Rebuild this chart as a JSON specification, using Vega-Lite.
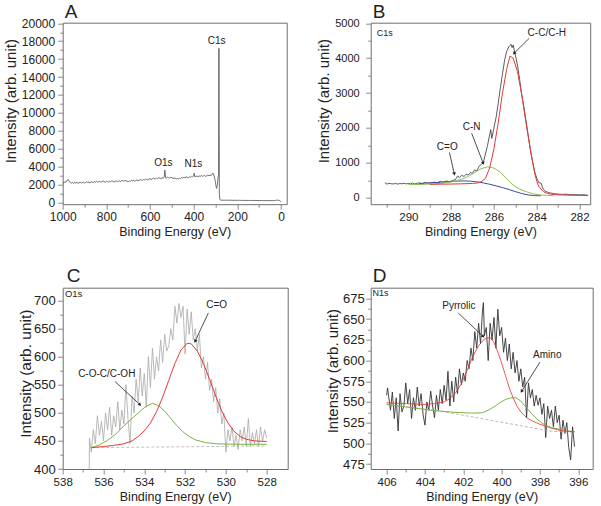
{
"$schema": "https://vega.github.io/schema/vega-lite/v6.json",
"autosize": {"type": "none"},
"padding": {"left": 62.7, "top": 22.7, "right": 538.3, "bottom": 483.3},
"background": "white",
"columns": 2,
"spacing": {"row": 83, "column": 83},
"bounds": "flush",
"config": {
 "view": {"stroke": "#6e6e6e", "strokeWidth": 1},
 "font": "Liberation Sans",
 "axis": {"domain": false, "grid": false, "tickCount": 100, "tickColor": "#6e6e6e", "tickWidth": 0.8, "tickSize": 5, "labelColor": "#222", "titleColor": "#222", "labelFont": "Liberation Sans", "titleFont": "Liberation Sans", "titleFontWeight": "normal", "labelFlush": false, "labelOverlap": false, "labelPadding": 2},
 "axisX": {"titleFontSize": 12.5, "titlePadding": 3, "labelFontSize": 11.5},
 "axisY": {"titleFontSize": 15, "titlePadding": 3, "labelPadding": 3, "labelFontSize": 12},
 "title": {"font": "Liberation Sans", "fontSize": 19, "fontWeight": "normal", "anchor": "start", "frame": "group", "color": "#222", "baseline": "alphabetic"}
},
"concat": [
{
 "width": 224, "height": 181.5,
 "title": {"text": "A", "offset": -5, "dx": 2},
 "resolve": {"axis": {"x": "independent", "y": "independent"}},
 "layer": [
 {"layer": [
  {"data": {"values": [{"e":1000,"v":2200},{"e":995,"v":2150},{"e":990,"v":2300},{"e":985,"v":2250},{"e":980,"v":2450},{"e":975,"v":2550},{"e":970,"v":2300},{"e":965,"v":2200},{"e":960,"v":2150},{"e":955,"v":2250},{"e":950,"v":2100},{"e":945,"v":2200},{"e":940,"v":2150},{"e":935,"v":2250},{"e":930,"v":2100},{"e":925,"v":2200},{"e":920,"v":2250},{"e":915,"v":2150},{"e":910,"v":2200},{"e":905,"v":2250},{"e":900,"v":2150},{"e":895,"v":2200},{"e":890,"v":2300},{"e":885,"v":2200},{"e":880,"v":2250},{"e":875,"v":2150},{"e":870,"v":2300},{"e":865,"v":2250},{"e":860,"v":2200},{"e":855,"v":2300},{"e":850,"v":2250},{"e":845,"v":2350},{"e":840,"v":2250},{"e":835,"v":2300},{"e":830,"v":2350},{"e":825,"v":2250},{"e":820,"v":2300},{"e":815,"v":2400},{"e":810,"v":2300},{"e":805,"v":2250},{"e":800,"v":2350},{"e":795,"v":2300},{"e":790,"v":2250},{"e":785,"v":2350},{"e":780,"v":2300},{"e":775,"v":2400},{"e":770,"v":2350},{"e":765,"v":2250},{"e":760,"v":2350},{"e":755,"v":2400},{"e":750,"v":2300},{"e":745,"v":2350},{"e":740,"v":2400},{"e":735,"v":2300},{"e":730,"v":2450},{"e":725,"v":2400},{"e":720,"v":2350},{"e":715,"v":2450},{"e":710,"v":2400},{"e":705,"v":2350},{"e":700,"v":2300},{"e":695,"v":2400},{"e":690,"v":2350},{"e":685,"v":2450},{"e":680,"v":2400},{"e":675,"v":2450},{"e":670,"v":2350},{"e":665,"v":2450},{"e":660,"v":2500},{"e":655,"v":2400},{"e":650,"v":2450},{"e":645,"v":2550},{"e":640,"v":2500},{"e":635,"v":2450},{"e":630,"v":2550},{"e":625,"v":2500},{"e":620,"v":2600},{"e":615,"v":2550},{"e":610,"v":2500},{"e":605,"v":2600},{"e":600,"v":2650},{"e":595,"v":2550},{"e":590,"v":2600},{"e":585,"v":2700},{"e":580,"v":2650},{"e":575,"v":2600},{"e":570,"v":2700},{"e":565,"v":2650},{"e":560,"v":2750},{"e":555,"v":2700},{"e":550,"v":2650},{"e":545,"v":2750},{"e":540,"v":2700},{"e":535,"v":2800},{"e":532,"v":3600},{"e":529,"v":2750},{"e":525,"v":2700},{"e":520,"v":2800},{"e":515,"v":2750},{"e":510,"v":2700},{"e":505,"v":2800},{"e":500,"v":2750},{"e":495,"v":2700},{"e":490,"v":2650},{"e":485,"v":2750},{"e":480,"v":2600},{"e":475,"v":2650},{"e":470,"v":2600},{"e":465,"v":2700},{"e":460,"v":2650},{"e":455,"v":2750},{"e":450,"v":2700},{"e":445,"v":2800},{"e":440,"v":2750},{"e":435,"v":2850},{"e":430,"v":2800},{"e":425,"v":2750},{"e":420,"v":2850},{"e":415,"v":2800},{"e":410,"v":2900},{"e":405,"v":2850},{"e":400,"v":2950},{"e":398,"v":3250},{"e":395,"v":2850},{"e":390,"v":2900},{"e":385,"v":2950},{"e":380,"v":2850},{"e":375,"v":2950},{"e":370,"v":2900},{"e":365,"v":3000},{"e":360,"v":2900},{"e":355,"v":2950},{"e":350,"v":3000},{"e":345,"v":2900},{"e":340,"v":2950},{"e":335,"v":3050},{"e":330,"v":2950},{"e":325,"v":3050},{"e":320,"v":3000},{"e":315,"v":3150},{"e":312,"v":3250},{"e":308,"v":3050},{"e":304,"v":2700},{"e":300,"v":2200},{"e":297,"v":1700},{"e":295,"v":1550},{"e":292,"v":1900},{"e":289,"v":2600},{"e":286,"v":3200},{"e":284.5,"v":17200},{"e":282.5,"v":900},{"e":280,"v":300},{"e":277,"v":250},{"e":270,"v":240},{"e":260,"v":230},{"e":250,"v":240},{"e":240,"v":225},{"e":230,"v":235},{"e":220,"v":220},{"e":210,"v":230},{"e":200,"v":215},{"e":190,"v":225},{"e":180,"v":210},{"e":170,"v":220},{"e":160,"v":205},{"e":150,"v":215},{"e":140,"v":200},{"e":130,"v":210},{"e":120,"v":200},{"e":110,"v":205},{"e":100,"v":195},{"e":90,"v":200},{"e":80,"v":190},{"e":70,"v":195},{"e":60,"v":185},{"e":50,"v":190},{"e":40,"v":185},{"e":30,"v":200},{"e":25,"v":220},{"e":20,"v":230},{"e":15,"v":240},{"e":10,"v":225},{"e":6,"v":200},{"e":3,"v":120},{"e":0,"v":30}]},
   "mark": {"type": "line", "color": "#4d4d4d", "strokeWidth": 0.8},
   "encoding": {
    "x": {"field": "e", "type": "quantitative", "scale": {"domain": [-26, 1000], "reverse": true, "nice": false, "zero": false},
     "axis": {"title": "Binding Energy (eV)", "format": "d", "tickCount": 100, "values": [0,200,400,600,800,1000], "labelFontSize": 12}},
    "y": {"field": "v", "type": "quantitative", "scale": {"domain": [-212, 20067], "nice": false, "zero": false},
     "axis": {"title": "Intensity (arb. unit)", "format": "d", "tickCount": 100, "titleY": 78, "values": [0,2000,4000,6000,8000,10000,12000,14000,16000,18000,20000]}}
   }},
  {"data": {"values": [{"e":294.5,"v":18056,"t":"C1s"},{"e":539,"v":4358,"t":"O1s"},{"e":401.7,"v":4313,"t":"N1s"}]},
   "mark": {"type": "text", "fontSize": 10, "color": "#222", "align": "center", "baseline": "middle", "font": "Liberation Sans"},
   "encoding": {"x": {"field": "e", "type": "quantitative"}, "y": {"field": "v", "type": "quantitative"}, "text": {"field": "t"}}}
 ]},
 {"data": {"values": [{"e":500,"v":1000}]}, "mark": {"type": "point", "opacity": 0},
  "encoding": {"x": {"field": "e", "type": "quantitative", "axis": {"orient": "bottom", "tickCount": 100, "values": [100,300,500,700,900], "labels": false, "title": null, "tickSize": 3}},
   "y": {"field": "v", "type": "quantitative", "axis": {"orient": "left", "tickCount": 100, "values": [1000,3000,5000,7000,9000,11000,13000,15000,17000,19000], "labels": false, "title": null, "tickSize": 3}}}}
 ]
},
{
 "width": 219.5, "height": 181.5,
 "title": {"text": "B", "offset": -4.5, "dx": 2},
 "resolve": {"axis": {"x": "independent", "y": "independent"}},
 "layer": [
 {"layer": [
  {"data": {"values": [{"e":291.1,"v":430},{"e":291.0,"v":390},{"e":290.9,"v":410},{"e":290.8,"v":400},{"e":290.7,"v":395},{"e":290.6,"v":410},{"e":290.5,"v":390},{"e":290.4,"v":405},{"e":290.3,"v":400},{"e":290.2,"v":415},{"e":290.1,"v":395},{"e":290.0,"v":410},{"e":289.9,"v":400},{"e":289.8,"v":420},{"e":289.7,"v":395},{"e":289.6,"v":410},{"e":289.5,"v":430},{"e":289.4,"v":400},{"e":289.3,"v":415},{"e":289.2,"v":440},{"e":289.1,"v":410},{"e":289.0,"v":430},{"e":288.9,"v":420},{"e":288.8,"v":450},{"e":288.7,"v":425},{"e":288.6,"v":440},{"e":288.5,"v":470},{"e":288.4,"v":445},{"e":288.3,"v":465},{"e":288.2,"v":480},{"e":288.1,"v":455},{"e":288.0,"v":475},{"e":287.9,"v":500},{"e":287.8,"v":520},{"e":287.7,"v":620},{"e":287.6,"v":580},{"e":287.5,"v":640},{"e":287.4,"v":610},{"e":287.3,"v":670},{"e":287.2,"v":650},{"e":287.1,"v":720},{"e":287.0,"v":700},{"e":286.9,"v":800},{"e":286.8,"v":760},{"e":286.7,"v":900},{"e":286.6,"v":950},{"e":286.5,"v":1000},{"e":286.4,"v":1250},{"e":286.3,"v":1500},{"e":286.2,"v":1800},{"e":286.15,"v":1950},{"e":286.1,"v":1700},{"e":286.0,"v":2000},{"e":285.9,"v":2300},{"e":285.8,"v":2700},{"e":285.7,"v":3150},{"e":285.6,"v":3550},{"e":285.5,"v":3950},{"e":285.4,"v":4200},{"e":285.3,"v":4330},{"e":285.2,"v":4400},{"e":285.15,"v":4300},{"e":285.1,"v":4380},{"e":285.0,"v":4100},{"e":284.9,"v":3800},{"e":284.8,"v":3400},{"e":284.7,"v":2950},{"e":284.6,"v":2600},{"e":284.5,"v":2200},{"e":284.4,"v":1800},{"e":284.3,"v":1400},{"e":284.2,"v":1050},{"e":284.1,"v":760},{"e":284.0,"v":560},{"e":283.9,"v":430},{"e":283.8,"v":420},{"e":283.7,"v":250},{"e":283.6,"v":190},{"e":283.5,"v":160},{"e":283.4,"v":140},{"e":283.3,"v":130},{"e":283.2,"v":115},{"e":283.1,"v":110},{"e":283.0,"v":105},{"e":282.8,"v":95},{"e":282.6,"v":100},{"e":282.4,"v":85},{"e":282.2,"v":90},{"e":282.0,"v":80},{"e":281.8,"v":85},{"e":281.6,"v":70}]},
   "mark": {"type": "line", "color": "#333", "strokeWidth": 0.8},
   "encoding": {
    "x": {"field": "e", "type": "quantitative", "scale": {"domain": [281.5, 291.76], "reverse": true, "nice": false, "zero": false},
     "axis": {"title": "Binding Energy (eV)", "format": "d", "tickCount": 100, "values": [282,284,286,288,290]}},
    "y": {"field": "v", "type": "quantitative", "scale": {"domain": [-186, 5017], "nice": false, "zero": false},
     "axis": {"title": "Intensity (arb. unit)", "format": "d", "tickCount": 100, "titleY": 78, "labelPadding": 6.5, "labelFontSize": 11, "values": [0,1000,2000,3000,4000,5000]}}
   }},
  {"data": {"values": [{"e":289.5,"v":410},{"e":289.0,"v":425},{"e":288.5,"v":443},{"e":288.0,"v":465},{"e":287.7,"v":477},{"e":287.4,"v":482},{"e":287.1,"v":475},{"e":286.8,"v":455},{"e":286.5,"v":425},{"e":286.2,"v":385},{"e":285.9,"v":340},{"e":285.6,"v":290},{"e":285.3,"v":235},{"e":285.0,"v":175},{"e":284.7,"v":120},{"e":284.4,"v":80},{"e":284.1,"v":60},{"e":283.8,"v":55}]},
   "mark": {"type": "line", "color": "#3a4ba3", "strokeWidth": 1},
   "encoding": {"x": {"field": "e", "type": "quantitative"}, "y": {"field": "v", "type": "quantitative"}}},
  {"data": {"values": [{"e":290.0,"v":375},{"e":289.5,"v":380},{"e":289.0,"v":390},{"e":288.5,"v":410},{"e":288.0,"v":450},{"e":287.5,"v":530},{"e":287.2,"v":610},{"e":286.9,"v":720},{"e":286.6,"v":830},{"e":286.3,"v":885},{"e":286.0,"v":850},{"e":285.7,"v":730},{"e":285.4,"v":540},{"e":285.1,"v":360},{"e":284.8,"v":250},{"e":284.5,"v":175},{"e":284.2,"v":115},{"e":283.85,"v":80},{"e":283.5,"v":65},{"e":283.2,"v":58}]},
   "mark": {"type": "line", "color": "#8cc152", "strokeWidth": 1},
   "encoding": {"x": {"field": "e", "type": "quantitative"}, "y": {"field": "v", "type": "quantitative"}}},
  {"data": {"values": [{"e":289.0,"v":384},{"e":288.5,"v":388},{"e":288.0,"v":392},{"e":287.5,"v":398},{"e":287.0,"v":408},{"e":286.8,"v":420},{"e":286.6,"v":455},{"e":286.4,"v":550},{"e":286.2,"v":850},{"e":286.0,"v":1400},{"e":285.8,"v":2150},{"e":285.6,"v":3000},{"e":285.4,"v":3700},{"e":285.25,"v":4060},{"e":285.1,"v":4000},{"e":284.9,"v":3620},{"e":284.7,"v":2950},{"e":284.5,"v":2150},{"e":284.3,"v":1380},{"e":284.1,"v":720},{"e":284.0,"v":480},{"e":283.9,"v":320},{"e":283.7,"v":180},{"e":283.5,"v":120},{"e":283.2,"v":90},{"e":282.8,"v":78},{"e":282.3,"v":70},{"e":281.6,"v":62}]},
   "mark": {"type": "line", "color": "#e53935", "strokeWidth": 1},
   "encoding": {"x": {"field": "e", "type": "quantitative"}, "y": {"field": "v", "type": "quantitative"}}},
  {"data": {"values": [{"e":284.35,"v":4570,"e2":285.06,"v2":4140},{"e":287.04,"v":1846,"e2":286.5,"v2":986},{"e":288.08,"v":1296,"e2":287.85,"v2":680}]},
   "mark": {"type": "rule", "color": "#222", "strokeWidth": 0.8},
   "encoding": {"x": {"field": "e", "type": "quantitative"}, "y": {"field": "v", "type": "quantitative"}, "x2": {"field": "e2"}, "y2": {"field": "v2"}}},
  {"data": {"values": [{"e":285.06,"v":4140}]}, "mark": {"type": "point", "shape": "triangle-up", "angle": 226, "size": 14, "filled": true, "color": "#222", "opacity": 1},
   "encoding": {"x": {"field": "e", "type": "quantitative"}, "y": {"field": "v", "type": "quantitative"}}},
  {"data": {"values": [{"e":286.5,"v":986}]}, "mark": {"type": "point", "shape": "triangle-up", "angle": 159, "size": 14, "filled": true, "color": "#222", "opacity": 1},
   "encoding": {"x": {"field": "e", "type": "quantitative"}, "y": {"field": "v", "type": "quantitative"}}},
  {"data": {"values": [{"e":287.85,"v":680}]}, "mark": {"type": "point", "shape": "triangle-up", "angle": 167, "size": 14, "filled": true, "color": "#222", "opacity": 1},
   "encoding": {"x": {"field": "e", "type": "quantitative"}, "y": {"field": "v", "type": "quantitative"}}},
  {"data": {"values": [{"e":283.53,"v":4713,"t":"C-C/C-H"},{"e":287.04,"v":2018,"t":"C-N"},{"e":288.18,"v":1462,"t":"C=O"}]},
   "mark": {"type": "text", "fontSize": 10, "color": "#222", "align": "center", "baseline": "middle", "font": "Liberation Sans"},
   "encoding": {"x": {"field": "e", "type": "quantitative"}, "y": {"field": "v", "type": "quantitative"}, "text": {"field": "t"}}},
  {"data": {"values": [{"e":291.48,"v":4713,"t":"C1s"}]},
   "mark": {"type": "text", "fontSize": 9, "color": "#222", "align": "left", "baseline": "middle", "font": "Liberation Sans"},
   "encoding": {"x": {"field": "e", "type": "quantitative"}, "y": {"field": "v", "type": "quantitative"}, "text": {"field": "t"}}}
 ]},
 {"data": {"values": [{"e":286,"v":1000}]}, "mark": {"type": "point", "opacity": 0},
  "encoding": {"x": {"field": "e", "type": "quantitative", "axis": {"orient": "bottom", "tickCount": 100, "values": [283,285,287,289,291], "labels": false, "title": null, "tickSize": 3}},
   "y": {"field": "v", "type": "quantitative", "axis": {"orient": "left", "tickCount": 100, "values": [500,1500,2500,3500,4500], "labels": false, "title": null, "tickSize": 3}}}}
 ]
},
{
 "width": 225, "height": 181.3,
 "title": {"text": "C", "offset": 1.5, "dx": 4},
 "resolve": {"axis": {"x": "independent", "y": "independent"}},
 "layer": [
 {"layer": [
  {"data": {"values": [{"e":536.7,"v":400},{"e":536.69,"v":455},{"e":536.6,"v":430},{"e":536.5,"v":470},{"e":536.4,"v":445},{"e":536.3,"v":495},{"e":536.2,"v":460},{"e":536.1,"v":485},{"e":536.0,"v":450},{"e":535.9,"v":500},{"e":535.8,"v":470},{"e":535.7,"v":510},{"e":535.6,"v":460},{"e":535.5,"v":495},{"e":535.4,"v":475},{"e":535.3,"v":520},{"e":535.2,"v":470},{"e":535.1,"v":505},{"e":535.0,"v":480},{"e":534.9,"v":550},{"e":534.8,"v":490},{"e":534.7,"v":445},{"e":534.6,"v":530},{"e":534.5,"v":500},{"e":534.4,"v":560},{"e":534.3,"v":520},{"e":534.2,"v":580},{"e":534.1,"v":530},{"e":534.0,"v":570},{"e":533.9,"v":510},{"e":533.8,"v":600},{"e":533.7,"v":545},{"e":533.6,"v":615},{"e":533.5,"v":560},{"e":533.4,"v":600},{"e":533.3,"v":575},{"e":533.2,"v":630},{"e":533.1,"v":590},{"e":533.0,"v":640},{"e":532.9,"v":610},{"e":532.8,"v":620},{"e":532.7,"v":650},{"e":532.6,"v":630},{"e":532.5,"v":690},{"e":532.4,"v":660},{"e":532.3,"v":695},{"e":532.2,"v":670},{"e":532.1,"v":690},{"e":532.0,"v":605},{"e":531.9,"v":685},{"e":531.8,"v":640},{"e":531.7,"v":680},{"e":531.6,"v":630},{"e":531.5,"v":650},{"e":531.4,"v":610},{"e":531.3,"v":640},{"e":531.2,"v":580},{"e":531.1,"v":600},{"e":531.0,"v":560},{"e":530.9,"v":590},{"e":530.8,"v":540},{"e":530.7,"v":560},{"e":530.6,"v":520},{"e":530.5,"v":545},{"e":530.4,"v":500},{"e":530.3,"v":525},{"e":530.2,"v":480},{"e":530.1,"v":500},{"e":530.0,"v":430},{"e":529.9,"v":470},{"e":529.8,"v":450},{"e":529.7,"v":475},{"e":529.6,"v":440},{"e":529.5,"v":460},{"e":529.4,"v":435},{"e":529.3,"v":470},{"e":529.2,"v":450},{"e":529.1,"v":475},{"e":529.0,"v":440},{"e":528.9,"v":490},{"e":528.8,"v":440},{"e":528.7,"v":465},{"e":528.6,"v":445},{"e":528.5,"v":470},{"e":528.4,"v":440},{"e":528.3,"v":475},{"e":528.2,"v":450},{"e":528.1,"v":470},{"e":528.0,"v":455}]},
   "mark": {"type": "line", "color": "#a8a8a8", "strokeWidth": 0.8},
   "encoding": {
    "x": {"field": "e", "type": "quantitative", "scale": {"domain": [526.97, 538], "reverse": true, "nice": false, "zero": false},
     "axis": {"title": "Binding Energy (eV)", "format": "d", "tickCount": 100, "values": [528,530,532,534,536,538]}},
    "y": {"field": "v", "type": "quantitative", "scale": {"domain": [400, 723], "nice": false, "zero": false},
     "axis": {"title": "Intensity (arb. unit)", "format": "d", "tickCount": 100, "titleY": 85.5, "titleFontSize": 15.5, "titlePadding": 0, "labelPadding": 2.5, "labelFontSize": 13, "values": [400,450,500,550,600,650,700]}}
   }},
  {"data": {"values": [{"e":536.6,"v":438},{"e":528.0,"v":441}]},
   "mark": {"type": "line", "color": "#b0b0b0", "strokeWidth": 0.8, "strokeDash": [3, 2]},
   "encoding": {"x": {"field": "e", "type": "quantitative"}, "y": {"field": "v", "type": "quantitative"}}},
  {"data": {"values": [{"e":536.6,"v":438},{"e":536.2,"v":443},{"e":535.8,"v":451},{"e":535.4,"v":462},{"e":535.0,"v":477},{"e":534.6,"v":490},{"e":534.2,"v":503},{"e":533.9,"v":512},{"e":533.6,"v":517},{"e":533.3,"v":513},{"e":533.0,"v":503},{"e":532.7,"v":490},{"e":532.4,"v":477},{"e":532.1,"v":466},{"e":531.8,"v":458},{"e":531.5,"v":452},{"e":531.0,"v":447},{"e":530.5,"v":445},{"e":529.5,"v":444},{"e":528.0,"v":444}]},
   "mark": {"type": "line", "color": "#7cb342", "strokeWidth": 1},
   "encoding": {"x": {"field": "e", "type": "quantitative"}, "y": {"field": "v", "type": "quantitative"}}},
  {"data": {"values": [{"e":536.6,"v":438},{"e":536.0,"v":440},{"e":535.5,"v":442},{"e":535.0,"v":445},{"e":534.6,"v":450},{"e":534.3,"v":458},{"e":534.0,"v":468},{"e":533.7,"v":482},{"e":533.4,"v":502},{"e":533.1,"v":528},{"e":532.8,"v":558},{"e":532.5,"v":588},{"e":532.2,"v":612},{"e":531.9,"v":624},{"e":531.7,"v":623},{"e":531.4,"v":610},{"e":531.1,"v":588},{"e":530.8,"v":560},{"e":530.5,"v":530},{"e":530.2,"v":503},{"e":529.9,"v":482},{"e":529.6,"v":467},{"e":529.3,"v":458},{"e":529.0,"v":453},{"e":528.6,"v":450},{"e":528.0,"v":449}]},
   "mark": {"type": "line", "color": "#e53935", "strokeWidth": 1},
   "encoding": {"x": {"field": "e", "type": "quantitative"}, "y": {"field": "v", "type": "quantitative"}}},
  {"data": {"values": [{"e":530.86,"v":678,"e2":531.51,"v2":627.5},{"e":535.44,"v":556,"e2":534.21,"v2":514.6}]},
   "mark": {"type": "rule", "color": "#222", "strokeWidth": 0.8},
   "encoding": {"x": {"field": "e", "type": "quantitative"}, "y": {"field": "v", "type": "quantitative"}, "x2": {"field": "e2"}, "y2": {"field": "v2"}}},
  {"data": {"values": [{"e":531.51,"v":627.5}]}, "mark": {"type": "point", "shape": "triangle-up", "angle": 205, "size": 14, "filled": true, "color": "#222", "opacity": 1},
   "encoding": {"x": {"field": "e", "type": "quantitative"}, "y": {"field": "v", "type": "quantitative"}}},
  {"data": {"values": [{"e":534.21,"v":514.6}]}, "mark": {"type": "point", "shape": "triangle-up", "angle": 133, "size": 14, "filled": true, "color": "#222", "opacity": 1},
   "encoding": {"x": {"field": "e", "type": "quantitative"}, "y": {"field": "v", "type": "quantitative"}}},
  {"data": {"values": [{"e":530.45,"v":691.6,"t":"C=O"},{"e":535.84,"v":569.3,"t":"C-O-C/C-OH"}]},
   "mark": {"type": "text", "fontSize": 10, "color": "#222", "align": "center", "baseline": "middle", "font": "Liberation Sans"},
   "encoding": {"x": {"field": "e", "type": "quantitative"}, "y": {"field": "v", "type": "quantitative"}, "text": {"field": "t"}}},
  {"data": {"values": [{"e":537.89,"v":712,"t":"O1s"}]},
   "mark": {"type": "text", "fontSize": 9.5, "color": "#222", "align": "left", "baseline": "middle", "font": "Liberation Sans"},
   "encoding": {"x": {"field": "e", "type": "quantitative"}, "y": {"field": "v", "type": "quantitative"}, "text": {"field": "t"}}}
 ]},
 {"data": {"values": [{"e":532,"v":500}]}, "mark": {"type": "point", "opacity": 0},
  "encoding": {"x": {"field": "e", "type": "quantitative", "axis": {"orient": "bottom", "tickCount": 100, "values": [529,531,533,535,537], "labels": false, "title": null, "tickSize": 3}},
   "y": {"field": "v", "type": "quantitative", "axis": {"orient": "left", "tickCount": 100, "values": [425,475,525,575,625,675], "labels": false, "title": null, "tickSize": 3}}}}
 ]
},
{
 "width": 222, "height": 181.3,
 "title": {"text": "D", "offset": 1.5, "dx": 2},
 "resolve": {"axis": {"x": "independent", "y": "independent"}},
 "layer": [
 {"layer": [
  {"data": {"values": [{"e":406.0,"v":558},{"e":405.95,"v":567},{"e":405.8,"v":540},{"e":405.7,"v":562},{"e":405.6,"v":530},{"e":405.5,"v":555},{"e":405.4,"v":515},{"e":405.3,"v":560},{"e":405.2,"v":538},{"e":405.1,"v":545},{"e":405.0,"v":573},{"e":404.9,"v":548},{"e":404.8,"v":565},{"e":404.7,"v":530},{"e":404.6,"v":555},{"e":404.5,"v":540},{"e":404.4,"v":568},{"e":404.3,"v":545},{"e":404.2,"v":560},{"e":404.1,"v":535},{"e":404.0,"v":522},{"e":403.9,"v":550},{"e":403.8,"v":540},{"e":403.7,"v":563},{"e":403.6,"v":545},{"e":403.5,"v":531},{"e":403.4,"v":558},{"e":403.3,"v":540},{"e":403.2,"v":565},{"e":403.1,"v":548},{"e":403.0,"v":570},{"e":402.9,"v":552},{"e":402.8,"v":587},{"e":402.7,"v":545},{"e":402.6,"v":575},{"e":402.5,"v":550},{"e":402.4,"v":580},{"e":402.3,"v":560},{"e":402.2,"v":590},{"e":402.1,"v":571},{"e":402.0,"v":585},{"e":401.9,"v":575},{"e":401.8,"v":600},{"e":401.7,"v":590},{"e":401.6,"v":615},{"e":401.5,"v":600},{"e":401.4,"v":635},{"e":401.3,"v":615},{"e":401.2,"v":645},{"e":401.1,"v":620},{"e":401.0,"v":660},{"e":400.95,"v":670},{"e":400.9,"v":630},{"e":400.8,"v":640},{"e":400.7,"v":600},{"e":400.6,"v":645},{"e":400.5,"v":625},{"e":400.4,"v":652},{"e":400.3,"v":615},{"e":400.2,"v":662},{"e":400.1,"v":630},{"e":400.0,"v":640},{"e":399.9,"v":610},{"e":399.8,"v":627},{"e":399.7,"v":600},{"e":399.6,"v":620},{"e":399.5,"v":590},{"e":399.4,"v":610},{"e":399.3,"v":585},{"e":399.2,"v":600},{"e":399.1,"v":575},{"e":399.0,"v":590},{"e":398.9,"v":568},{"e":398.8,"v":580},{"e":398.7,"v":531},{"e":398.6,"v":573},{"e":398.5,"v":555},{"e":398.4,"v":565},{"e":398.3,"v":545},{"e":398.2,"v":558},{"e":398.1,"v":546},{"e":398.0,"v":555},{"e":397.9,"v":535},{"e":397.8,"v":548},{"e":397.7,"v":507},{"e":397.6,"v":545},{"e":397.5,"v":530},{"e":397.4,"v":540},{"e":397.3,"v":520},{"e":397.2,"v":545},{"e":397.1,"v":525},{"e":397.0,"v":534},{"e":396.9,"v":505},{"e":396.8,"v":528},{"e":396.7,"v":512},{"e":396.6,"v":525},{"e":396.5,"v":495},{"e":396.4,"v":480},{"e":396.3,"v":520},{"e":396.2,"v":496}]},
   "mark": {"type": "line", "color": "#333", "strokeWidth": 0.9},
   "encoding": {
    "x": {"field": "e", "type": "quantitative", "scale": {"domain": [395.25, 406.83], "reverse": true, "nice": false, "zero": false},
     "axis": {"title": "Binding Energy (eV)", "format": "d", "tickCount": 100, "values": [396,398,400,402,404,406]}},
    "y": {"field": "v", "type": "quantitative", "scale": {"domain": [469, 688], "nice": false, "zero": false},
     "axis": {"title": "Intensity (arb. unit)", "format": "d", "tickCount": 100, "titleY": 83, "titlePadding": 2, "labelPadding": 1.5, "labelFontSize": 13, "values": [475,500,525,550,575,600,625,650,675]}}
   }},
  {"data": {"values": [{"e":406.0,"v":547},{"e":403.3,"v":539.4},{"e":397.4,"v":514.5},{"e":396.2,"v":513.5}]},
   "mark": {"type": "line", "color": "#a8a8a8", "strokeWidth": 0.8, "strokeDash": [3, 2]},
   "encoding": {"x": {"field": "e", "type": "quantitative"}, "y": {"field": "v", "type": "quantitative"}}},
  {"data": {"values": [{"e":406.0,"v":547},{"e":405.0,"v":544},{"e":404.0,"v":541},{"e":403.5,"v":539.5},{"e":403.0,"v":538.5},{"e":402.5,"v":537.5},{"e":402.0,"v":537},{"e":401.5,"v":536.5},{"e":401.0,"v":537},{"e":400.7,"v":540},{"e":400.4,"v":544},{"e":400.1,"v":549},{"e":399.8,"v":553},{"e":399.5,"v":555},{"e":399.25,"v":555},{"e":399.0,"v":551},{"e":398.7,"v":543},{"e":398.4,"v":535},{"e":398.1,"v":528},{"e":397.8,"v":523},{"e":397.4,"v":519},{"e":397.0,"v":517},{"e":396.6,"v":515},{"e":396.2,"v":514}]},
   "mark": {"type": "line", "color": "#7cb342", "strokeWidth": 1},
   "encoding": {"x": {"field": "e", "type": "quantitative"}, "y": {"field": "v", "type": "quantitative"}}},
  {"data": {"values": [{"e":406.0,"v":549},{"e":405.0,"v":548},{"e":404.0,"v":547},{"e":403.5,"v":548},{"e":403.0,"v":550},{"e":402.7,"v":554},{"e":402.4,"v":561},{"e":402.1,"v":572},{"e":401.8,"v":588},{"e":401.5,"v":605},{"e":401.2,"v":618},{"e":400.9,"v":626},{"e":400.6,"v":628},{"e":400.4,"v":622},{"e":400.2,"v":610},{"e":400.0,"v":597},{"e":399.8,"v":582},{"e":399.6,"v":567},{"e":399.4,"v":555},{"e":399.2,"v":545},{"e":399.0,"v":538},{"e":398.7,"v":531},{"e":398.4,"v":527},{"e":398.0,"v":523},{"e":397.6,"v":520},{"e":397.2,"v":517},{"e":396.8,"v":515},{"e":396.2,"v":514}]},
   "mark": {"type": "line", "color": "#e53935", "strokeWidth": 1, "opacity": 0.85},
   "encoding": {"x": {"field": "e", "type": "quantitative"}, "y": {"field": "v", "type": "quantitative"}}},
  {"data": {"values": [{"e":402.26,"v":657.4,"e2":400.96,"v2":629.1},{"e":398.0,"v":598.2,"e2":398.96,"v2":562.7}]},
   "mark": {"type": "rule", "color": "#222", "strokeWidth": 0.8},
   "encoding": {"x": {"field": "e", "type": "quantitative"}, "y": {"field": "v", "type": "quantitative"}, "x2": {"field": "e2"}, "y2": {"field": "v2"}}},
  {"data": {"values": [{"e":400.96,"v":629.1}]}, "mark": {"type": "point", "shape": "triangle-up", "angle": 133, "size": 14, "filled": true, "color": "#222", "opacity": 1},
   "encoding": {"x": {"field": "e", "type": "quantitative"}, "y": {"field": "v", "type": "quantitative"}}},
  {"data": {"values": [{"e":398.96,"v":562.7}]}, "mark": {"type": "point", "shape": "triangle-up", "angle": 212, "size": 14, "filled": true, "color": "#222", "opacity": 1},
   "encoding": {"x": {"field": "e", "type": "quantitative"}, "y": {"field": "v", "type": "quantitative"}}},
  {"data": {"values": [{"e":402.23,"v":665.3,"t":"Pyrrolic"},{"e":397.62,"v":606.2,"t":"Amino"}]},
   "mark": {"type": "text", "fontSize": 10, "color": "#222", "align": "center", "baseline": "middle", "font": "Liberation Sans"},
   "encoding": {"x": {"field": "e", "type": "quantitative"}, "y": {"field": "v", "type": "quantitative"}, "text": {"field": "t"}}},
  {"data": {"values": [{"e":406.73,"v":682.2,"t":"N1s"}]},
   "mark": {"type": "text", "fontSize": 9, "color": "#222", "align": "left", "baseline": "middle", "font": "Liberation Sans"},
   "encoding": {"x": {"field": "e", "type": "quantitative"}, "y": {"field": "v", "type": "quantitative"}, "text": {"field": "t"}}}
 ]},
 {"data": {"values": [{"e":400,"v":550}]}, "mark": {"type": "point", "opacity": 0},
  "encoding": {"x": {"field": "e", "type": "quantitative", "axis": {"orient": "bottom", "tickCount": 100, "values": [397,399,401,403,405], "labels": false, "title": null, "tickSize": 3}},
   "y": {"field": "v", "type": "quantitative", "axis": {"orient": "left", "tickCount": 100, "values": [487.5,512.5,537.5,562.5,587.5,612.5,637.5,662.5], "labels": false, "title": null, "tickSize": 3}}}}
 ]
}
]
}
